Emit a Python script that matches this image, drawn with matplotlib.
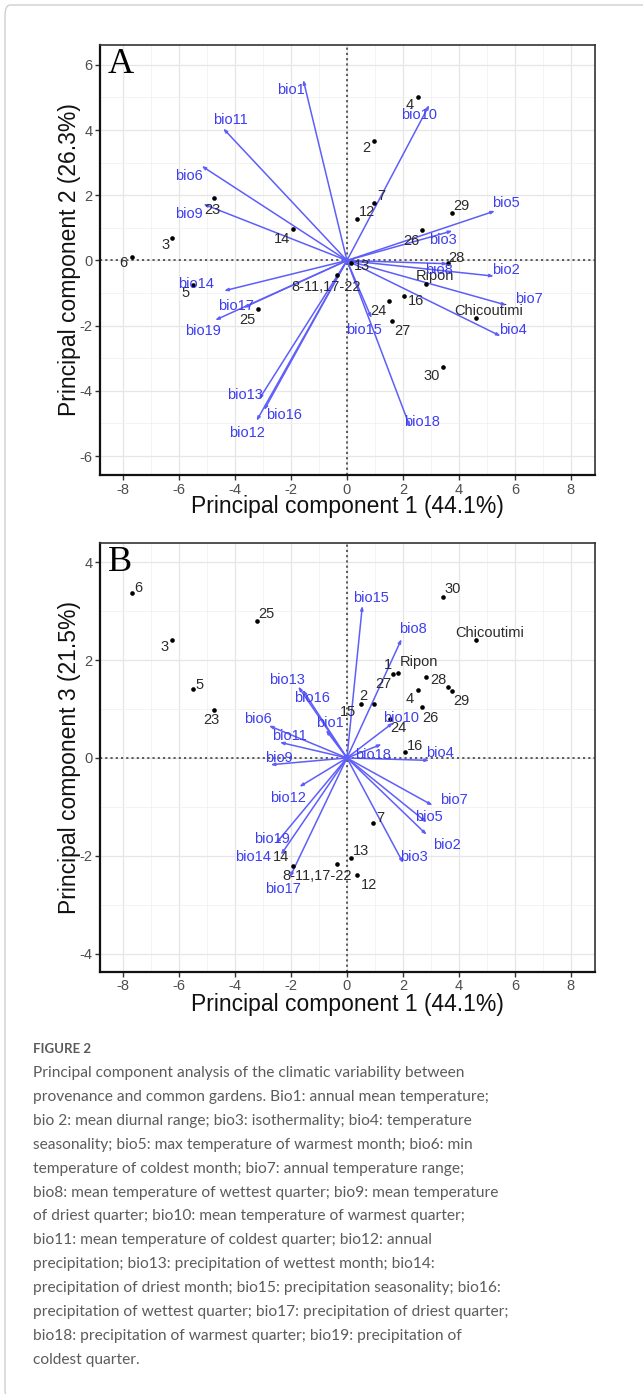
import matplotlib
matplotlib.use("Agg")
import matplotlib.pyplot as plt
from matplotlib.patches import FancyBboxPatch

# ---------------- data ----------------
bio_names = ["bio%d" % i for i in range(1, 20)]

# Panel A: PC1 vs PC2 loadings (arrow tips)
pc1_load_A = [-1.56, 5.25, 3.77, 5.49, 5.29, -5.19, 5.70, 3.60, -5.13, 2.94,
              -4.42, -3.23, -3.14, -4.39, 0.88, -2.96, -3.70, 2.25, -4.71]
pc2_load_A = [5.54, -0.48, 0.91, -2.32, 1.52, 2.90, -1.37, -0.10, 1.73, 4.77,
              4.05, -4.92, -4.26, -0.93, -1.77, -4.59, -1.45, -5.10, -1.83]

# Panel B: PC1 vs PC3 loadings
pc1_load_B = [-0.75, 2.85, 2.01, 2.94, 2.85, -2.79, 3.06, 1.95, -2.73, 1.65,
              -2.40, -1.70, -1.74, -2.36, 0.55, -1.58, -2.04, 1.24, -2.54]
pc3_load_B = [0.57, -1.57, -2.15, -0.05, -1.32, 0.66, -0.97, 2.43, -0.14, 0.72,
              0.32, -0.59, 1.46, -1.98, 3.11, 1.39, -2.44, 0.28, -1.75]

# Sites, panel A
site_labels_A = ["2", "3", "4", "5", "6", "7", "12", "13", "14", "16", "23", "24",
                 "25", "26", "27", "28", "29", "30", "Ripon", "Chicoutimi", "8-11,17-22"]
site_pc1_A = [0.98, -6.24, 2.55, -5.49, -7.69, 0.98, 0.37, 0.15, -1.92, 2.04, -4.75, 1.50,
              -3.19, 2.67, 1.62, 3.62, 3.77, 3.42, 2.81, 4.60, -0.37]
site_pc2_A = [3.67, 0.68, 5.00, -0.75, 0.12, 1.77, 1.26, -0.08, 0.96, -1.09, 1.91, -1.24,
              -1.50, 0.94, -1.85, -0.08, 1.45, -3.28, -0.72, -1.77, -0.44]

# Sites, panel B
site_labels_B = ["1", "2", "3", "4", "5", "6", "7", "12", "13", "14", "15", "16", "23",
                 "24", "25", "26", "27", "28", "29", "30", "Ripon", "Chicoutimi", "8-11,17-22"]
site_pc1_B = [1.63, 0.98, -6.24, 2.55, -5.51, -7.69, 0.94, 0.37, 0.14, -1.92, 0.52, 2.07,
              -4.75, 1.55, -3.20, 2.67, 1.83, 3.62, 3.77, 3.42, 2.81, 4.60, -0.37]
site_pc3_B = [1.71, 1.10, 2.41, 1.39, 1.41, 3.37, -1.32, -2.39, -2.04, -2.21, 1.10, 0.12,
              0.99, 0.80, 2.80, 1.04, 1.74, 1.46, 1.37, 3.28, 1.65, 2.41, -2.17]

x_ticks = [-8, -6, -4, -2, 0, 2, 4, 6, 8]
y_ticks_A = [-6, -4, -2, 0, 2, 4, 6]
y_ticks_B = [-4, -2, 0, 2, 4]

xlabel = "Principal component 1 (44.1%)"
ylabel_A = "Principal component 2 (26.3%)"
ylabel_B = "Principal component 3 (21.5%)"

caption_title = "FIGURE 2"
caption_lines = [
    "Principal component analysis of the climatic variability between",
    "provenance and common gardens. Bio1: annual mean temperature;",
    "bio 2: mean diurnal range; bio3: isothermality; bio4: temperature",
    "seasonality; bio5: max temperature of warmest month; bio6: min",
    "temperature of coldest month; bio7: annual temperature range;",
    "bio8: mean temperature of wettest quarter; bio9: mean temperature",
    "of driest quarter; bio10: mean temperature of warmest quarter;",
    "bio11: mean temperature of coldest quarter; bio12: annual",
    "precipitation; bio13: precipitation of wettest month; bio14:",
    "precipitation of driest month; bio15: precipitation seasonality; bio16:",
    "precipitation of wettest quarter; bio17: precipitation of driest quarter;",
    "bio18: precipitation of warmest quarter; bio19: precipitation of",
    "coldest quarter.",
]

# ---------------- label placement (pixel offsets from marks) ----------------
bio_off_A = {
    "bio1": (-12, -10), "bio2": (12, 6), "bio3": (-10, -9), "bio4": (12, 6),
    "bio5": (11, 8), "bio6": (-13, -10), "bio7": (22, 6), "bio8": (-9, -6),
    "bio9": (-14, -10), "bio10": (-10, -10), "bio11": (7, 8), "bio12": (-10, -12),
    "bio13": (-14, 4), "bio14": (-28, 7), "bio15": (-8, -12), "bio16": (20, -5),
    "bio17": (-7, 2), "bio18": (12, 5), "bio19": (-12, -11),
}
site_off_A = {
    "2": (-8, -7), "3": (-7, -7), "4": (-9, -8), "5": (-8, -8), "6": (-8, -6),
    "7": (7, 7), "12": (10, 7), "13": (11, -3), "14": (-11, -10), "16": (12, -5),
    "23": (-2, -12), "24": (-11, -10), "25": (-10, -11), "26": (-10, -11),
    "27": (10, -10), "28": (8, 5), "29": (9, 7), "30": (-11, -9),
    "Ripon": (9, 8), "Chicoutimi": (13, 7), "8-11,17-22": (-10, -12),
}
bio_off_B = {
    "bio1": (4, 7), "bio2": (20, -10), "bio3": (11, 6), "bio4": (11, 7),
    "bio5": (2, 6), "bio6": (-11, 7), "bio7": (21, 5), "bio8": (11, 10),
    "bio9": (8, 7), "bio10": (8, 5), "bio11": (10, 6), "bio12": (-11, -11),
    "bio13": (-11, 7), "bio14": (-28, -2), "bio15": (9, 8), "bio16": (9, -8),
    "bio17": (-7, -12), "bio18": (-9, -11), "bio19": (-4, 5),
}
site_off_B = {
    "1": (-5, 9), "2": (-11, 8), "3": (-8, -7), "4": (-9, -9), "5": (7, 4),
    "6": (7, 5), "7": (7, 5), "12": (12, -10), "13": (10, 7), "14": (-12, 9),
    "15": (-13, -8), "16": (10, 6), "23": (-3, -10), "24": (8, -9), "25": (9, 7),
    "26": (9, -11), "27": (-15, -11), "28": (-10, 7), "29": (9, -10), "30": (10, 8),
    "Ripon": (-7, 15), "Chicoutimi": (14, 7), "8-11,17-22": (-19, -12),
}

# ---------------- styles ----------------
W, H = 643, 1394
DPI = 100
ARROW_COLOR = "#5E5EFA"
BIO_TEXT = "#3D3DEE"
SITE_TEXT = "#2B2B2B"
FS_LABEL = 10.5
FS_TICK = 10.5
FS_AXIS = 16.5

plt.rcParams["font.family"] = ["Liberation Sans", "DejaVu Sans"]
plt.rcParams["axes.unicode_minus"] = False

fig = plt.figure(figsize=(W / DPI, H / DPI), dpi=DPI)
fig.patch.set_facecolor("white")


def fx(px):
    return px / W


def fy(py):
    return 1 - py / H


def make_axes(left, top, right, bottom):
    return fig.add_axes([fx(left), fy(bottom), (right - left) / W, (bottom - top) / H])


def draw_panel(ax, lx, ly, sx, sy, slabels, boff, soff, yticks, ylim, letter):
    ax.set_xlim(-8.82, 8.86)
    ax.set_ylim(*ylim)
    ax.set_xticks(x_ticks)
    ax.set_yticks(yticks)
    ax.set_xticks([t + 1 for t in x_ticks[:-1]], minor=True)
    ax.set_yticks([t + 1 for t in yticks[:-1]], minor=True)
    ax.grid(which="major", color="#E6E6E6", lw=0.9, zorder=0)
    ax.grid(which="minor", color="#F1F1F1", lw=0.6, zorder=0)
    ax.set_axisbelow(True)
    ax.tick_params(which="minor", length=0)
    ax.tick_params(which="major", length=3.5, width=1, color="#333333",
                   labelsize=FS_TICK, labelcolor="#4D4D4D", pad=2)
    for s in ["top", "right"]:
        ax.spines[s].set_color("#333333")
        ax.spines[s].set_linewidth(1.2)
    for s in ["left", "bottom"]:
        ax.spines[s].set_color("#111111")
        ax.spines[s].set_linewidth(1.6)

    ax.axhline(0, color="#5A5A5A", lw=1.4, ls=(0, (1.1, 1.6)), zorder=1)
    ax.axvline(0, color="#5A5A5A", lw=1.4, ls=(0, (1.1, 1.6)), zorder=1)

    # arrows
    for name, x, y in zip(bio_names, lx, ly):
        ax.annotate("", xy=(x, y), xytext=(0, 0),
                    arrowprops=dict(arrowstyle="-|>,head_length=0.22,head_width=0.08",
                                    color=ARROW_COLOR, lw=1.1, shrinkA=0, shrinkB=0),
                    zorder=3)
    # sites
    ax.scatter(sx, sy, s=11, color="black", zorder=4, linewidths=0)
    for name, x, y in zip(slabels, sx, sy):
        dx, dy = soff[name]
        ax.annotate(name, xy=(x, y), xytext=(dx, dy), textcoords="offset pixels",
                    ha="center", va="center", fontsize=FS_LABEL, color=SITE_TEXT, zorder=5)
    for name, x, y in zip(bio_names, lx, ly):
        dx, dy = boff[name]
        ax.annotate(name, xy=(x, y), xytext=(dx, dy), textcoords="offset pixels",
                    ha="center", va="center", fontsize=FS_LABEL, color=BIO_TEXT, zorder=6)
    ax.text(0.016, 0.935, letter, transform=ax.transAxes, ha="left", va="baseline",
            fontsize=26, family=["Liberation Serif", "DejaVu Serif"], color="black", zorder=7)


# Panel A
axA = make_axes(100, 45, 595, 475)
draw_panel(axA, pc1_load_A, pc2_load_A, site_pc1_A, site_pc2_A, site_labels_A,
           bio_off_A, site_off_A, y_ticks_A, (-6.58, 6.61), "A")
fig.text(fx(347.5), fy(513), xlabel, ha="center", va="baseline", fontsize=FS_AXIS, color="#111111")
fig.text(fx(70), fy(260), ylabel_A, ha="center", va="center", rotation=90,
         fontsize=FS_AXIS, color="#111111")

# Panel B
axB = make_axes(100, 542.7, 595, 971.7)
draw_panel(axB, pc1_load_B, pc3_load_B, site_pc1_B, site_pc3_B, site_labels_B,
           bio_off_B, site_off_B, y_ticks_B, (-4.37, 4.40), "B")
fig.text(fx(347.5), fy(1011.5), xlabel, ha="center", va="baseline", fontsize=FS_AXIS, color="#111111")
fig.text(fx(70), fy(757), ylabel_B, ha="center", va="center", rotation=90,
         fontsize=FS_AXIS, color="#111111")

# Caption
cap_font = ["Lato", "DejaVu Sans"]
renderer = fig.canvas.get_renderer()
probe = fig.text(0, 0, caption_lines[0], fontsize=12, family=cap_font)
w12 = probe.get_window_extent(renderer).width
probe.remove()
cap_fs = 12 * 429.0 / w12

fig.text(fx(33), fy(1049), caption_title, ha="left", va="center", fontsize=9.5,
         family=cap_font, weight="bold", color="#5A5A5A")
for i, line in enumerate(caption_lines):
    fig.text(fx(33), fy(1073 + 23.9 * i), line, ha="left", va="center",
             fontsize=cap_fs, family=cap_font, color="#5C5C5C")

# outer frame
frame = FancyBboxPatch((fx(5), fy(1400)), fx(660) - fx(5), fy(5) - fy(1400),
                       boxstyle="round,pad=0,rounding_size=0.008", transform=fig.transFigure,
                       fill=False, edgecolor="#CFCFCF", lw=1.0, clip_on=False)
fig.patches.append(frame)

fig.savefig("out.png", dpi=DPI)
